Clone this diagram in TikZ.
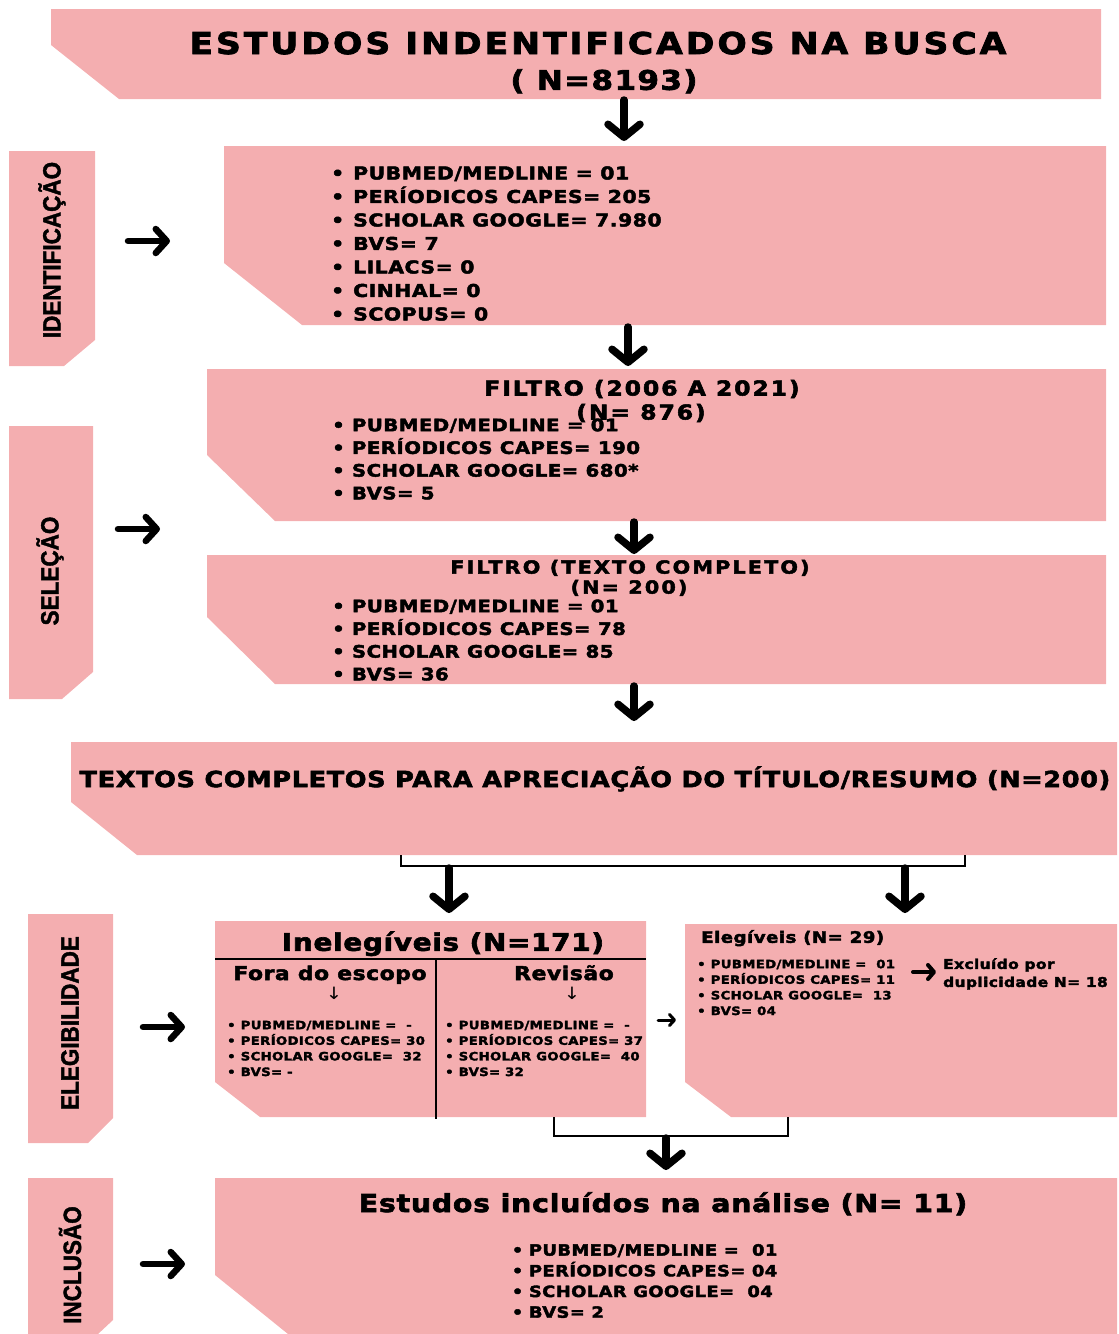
\documentclass[tikz,border=0pt]{standalone}
\usepackage{fontspec}
\usetikzlibrary{arrows.meta}
\newfontfamily\hv[FakeStretch=1.15,LetterSpace=3,BoldFeatures={FakeBold=2.6}]{DejaVu Sans}
\newfontfamily\lab[FakeStretch=0.9,BoldFeatures={FakeBold=1.5}]{Liberation Sans}
\definecolor{pinkbox}{RGB}{244,174,176}
\newcommand\myfs[1]{\fontsize{#1}{#1}\selectfont}
\tikzset{
  box/.style={fill=pinkbox},
  txt/.style={inner sep=0pt, anchor=base, text=black},
  li/.style={inner sep=0pt, anchor=base west, text=black},
  darrow/.style={line width=7.5pt, line cap=round, -{Straight Barb[length=13pt,width=32pt,round]}},
  rarrow/.style={line width=6.5pt, line cap=round, -{Straight Barb[length=11pt,width=24pt,round]}},
  sarrow/.style={line width=3pt, line cap=round, -{Straight Barb[length=5pt,width=11pt,round]}},
  bracket/.style={line width=2pt},
  lbl/.style={rotate=90, inner sep=0pt, font=\lab\bfseries\myfs{25}}
}
\begin{document}
\begin{tikzpicture}[x=1pt,y=-1pt]
\useasboundingbox (0,0) rectangle (1119,1334);
% ---------- boxes ----------
\fill[box] (51,9) -- (1101,9) -- (1101,99) -- (119,99) -- (51,45) -- cycle;
\fill[box] (224,146) -- (1106,146) -- (1106,325) -- (302,325) -- (224,263) -- cycle;
\fill[box] (207,369) -- (1106,369) -- (1106,521) -- (275,521) -- (207,455) -- cycle;
\fill[box] (207,555) -- (1106,555) -- (1106,684) -- (275,684) -- (207,617) -- cycle;
\fill[box] (71,742) -- (1117,742) -- (1117,855) -- (137,855) -- (71,802) -- cycle;
\fill[box] (215,921) -- (646,921) -- (646,1117) -- (260,1117) -- (215,1082) -- cycle;
\fill[box] (685,924) -- (1117,924) -- (1117,1117) -- (731,1117) -- (685,1082) -- cycle;
\fill[box] (215,1178) -- (1117,1178) -- (1117,1334) -- (288,1334) -- (215,1275) -- cycle;
% left labels
\fill[box] (9,151) -- (95,151) -- (95,340) -- (64,366) -- (9,366) -- cycle;
\fill[box] (9,426) -- (93,426) -- (93,672) -- (62,699) -- (9,699) -- cycle;
\fill[box] (28,914) -- (113,914) -- (113,1118) -- (88,1143) -- (28,1143) -- cycle;
\fill[box] (28,1178) -- (113,1178) -- (113,1320) -- (98,1334) -- (28,1334) -- cycle;
\node[lbl] (lid) at (52,250) {IDENTIFICAÇÃO};
\node[lbl] (lsel) at (50,571) {SELEÇÃO};
\node[lbl] (lele) at (70,1023) {ELEGIBILIDADE};
\node[lbl] (linc) at (70,1265) {INCLUSÃO};
% ---------- titles ----------
\node[txt, font={\hv\bfseries\addfontfeatures{LetterSpace=10}\myfs{30}}] (t1) at (598,54) {ESTUDOS INDENTIFICADOS NA BUSCA};
\node[txt, font={\hv\bfseries\addfontfeatures{LetterSpace=5}\myfs{27}}] (t2) at (604,89.8) {( N=8193)};
% identification list
\foreach \itm [count=\i] in {PUBMED/MEDLINE = 01, PERÍODICOS CAPES= 205, SCHOLAR GOOGLE= 7.980, BVS= 7, LILACS= 0, CINHAL= 0, SCOPUS= 0}
  \node[li, font={\hv\bfseries\myfs{17.7}}, name=id\i] at (331,{173+23.5*(\i-1)+6.45}) {•\hspace{9pt}\itm};
% filtro 1
\node[txt, font={\hv\bfseries\addfontfeatures{LetterSpace=9}\myfs{20.5}}] (f1h) at (642,395.5) {FILTRO (2006 A 2021)};
\node[txt, font={\hv\bfseries\addfontfeatures{LetterSpace=9}\myfs{20.5}}] (f1n) at (641,419.5) {(N= 876)};
\foreach \itm [count=\i] in {PUBMED/MEDLINE = 01, PERÍODICOS CAPES= 190, SCHOLAR GOOGLE= 680*, BVS= 5}
  \node[li, font={\hv\bfseries\myfs{17.1}}, name=fa\i] at (332,{425+22.7*(\i-1)+6.2}) {•\hspace{7.2pt}\itm};
% filtro 2
\node[txt, font={\hv\bfseries\addfontfeatures{LetterSpace=12}\myfs{18}}] (f2h) at (630,573.6) {FILTRO (TEXTO COMPLETO)};
\node[txt, font={\hv\bfseries\addfontfeatures{LetterSpace=12}\myfs{18}}] (f2n) at (629,593.6) {(N= 200)};
\foreach \itm [count=\i] in {PUBMED/MEDLINE = 01, PERÍODICOS CAPES= 78, SCHOLAR GOOGLE= 85, BVS= 36}
  \node[li, font={\hv\bfseries\myfs{17.1}}, name=fb\i] at (332,{606+22.7*(\i-1)+6.2}) {•\hspace{7.2pt}\itm};
% textos completos
\node[txt, font={\hv\bfseries\myfs{22.2}}] (tx) at (595,787.1) {TEXTOS COMPLETOS PARA APRECIAÇÃO DO TÍTULO/RESUMO (N=200)};
% inelegiveis
\draw[bracket] (215,959) -- (646,959);
\draw[bracket] (436,959) -- (436,1119);
\node[txt, font={\hv\bfseries\myfs{24.2}}] (inh) at (443,950.8) {Inelegíveis (N=171)};
\node[txt, font={\hv\bfseries\myfs{19}}] (fora) at (330,980) {Fora do escopo};
\node[txt, font={\hv\bfseries\myfs{19}}] (rev) at (564,980) {Revisão};
\node[txt, font={\hv\myfs{17}}] (da1) at (334,999) {↓};
\node[txt, font={\hv\myfs{17}}] (da2) at (572,999) {↓};
\foreach \itm [count=\i] in {PUBMED/MEDLINE = \ -, PERÍODICOS CAPES= 30, SCHOLAR GOOGLE= \ 32, BVS= -}
  \node[li, font={\hv\bfseries\myfs{11.5}}, name=ia\i] at (227,{1025+15.6*(\i-1)+4.2}) {•\hspace{5.1pt}\itm};
\foreach \itm [count=\i] in {PUBMED/MEDLINE = \ -, PERÍODICOS CAPES= 37, SCHOLAR GOOGLE= \ 40, BVS= 32}
  \node[li, font={\hv\bfseries\myfs{11.5}}, name=ib\i] at (445,{1025+15.6*(\i-1)+4.2}) {•\hspace{5.1pt}\itm};
% elegiveis
\node[li, font={\hv\bfseries\myfs{15.8}}] (elh) at (701,942.8) {Elegíveis (N= 29)};
\foreach \itm [count=\i] in {PUBMED/MEDLINE = \ 01, PERÍODICOS CAPES= 11, SCHOLAR GOOGLE= \ 13, BVS= 04}
  \node[li, font={\hv\bfseries\myfs{11.5}}, name=el\i] at (697,{964+15.6*(\i-1)+4.2}) {•\hspace{5.1pt}\itm};
\node[li, font={\hv\bfseries\myfs{13.4}}] (ex1) at (943,968.9) {Excluído por};
\node[li, font={\hv\bfseries\myfs{13.4}}] (ex2) at (943,986.9) {duplicidade N= 18};
% inclusao
\node[txt, font={\hv\bfseries\myfs{24.7}}] (inc) at (663,1212) {Estudos incluídos na análise (N= 11)};
\foreach \itm [count=\i] in {PUBMED/MEDLINE = \ 01, PERÍODICOS CAPES= 04, SCHOLAR GOOGLE= \ 04, BVS= 2}
  \node[li, font={\hv\bfseries\myfs{15.5}}, name=in\i] at (511.7,{1250+20.7*(\i-1)+5.6}) {•\hspace{5.7pt}\itm};
% ---------- connector coordinates ----------
\coordinate (a1s) at (624,100); \coordinate (a1e) at (624,141);
\coordinate (a2s) at (628,327); \coordinate (a2e) at (628,366);
\coordinate (a3s) at (634,522); \coordinate (a3e) at (634,554);
\coordinate (a4s) at (634,686); \coordinate (a4e) at (634,721);
\coordinate (b1l) at (401,855); \coordinate (b1r) at (965,855);
\coordinate (a5e) at (449,913); \coordinate (a6e) at (905,913);
\coordinate (b2l) at (554,1117); \coordinate (b2r) at (788,1117);
\coordinate (a7e) at (666,1170);
\coordinate (r1s) at (128,241); \coordinate (r1e) at (170,241);
\coordinate (r2s) at (118,529); \coordinate (r2e) at (160,529);
\coordinate (r3s) at (143,1027); \coordinate (r3e) at (185,1027);
\coordinate (r4s) at (143,1264); \coordinate (r4e) at (185,1264);
\coordinate (s1s) at (658,1020); \coordinate (s1e) at (676,1020);
\coordinate (s2s) at (913,972); \coordinate (s2e) at (936,972);
% ---------- connectors ----------
\draw[darrow] (a1s) -- (a1e);
\draw[darrow] (a2s) -- (a2e);
\draw[darrow] (a3s) -- (a3e);
\draw[darrow] (a4s) -- (a4e);
\draw[bracket] (b1l) |- (449,866) -| (b1r);
\draw[darrow] (449,868) -- (a5e);
\draw[darrow] (905,868) -- (a6e);
\draw[bracket] (b2l) |- (666,1136) -| (b2r);
\draw[darrow] (666,1138) -- (a7e);
\draw[rarrow] (r1s) -- (r1e);
\draw[rarrow] (r2s) -- (r2e);
\draw[rarrow] (r3s) -- (r3e);
\draw[rarrow] (r4s) -- (r4e);
\draw[sarrow] (s1s) -- (s1e);
\draw[line width=4pt, line cap=round, -{Straight Barb[length=6pt,width=14pt,round]}] (s2s) -- (s2e);
\end{tikzpicture}
\end{document}
